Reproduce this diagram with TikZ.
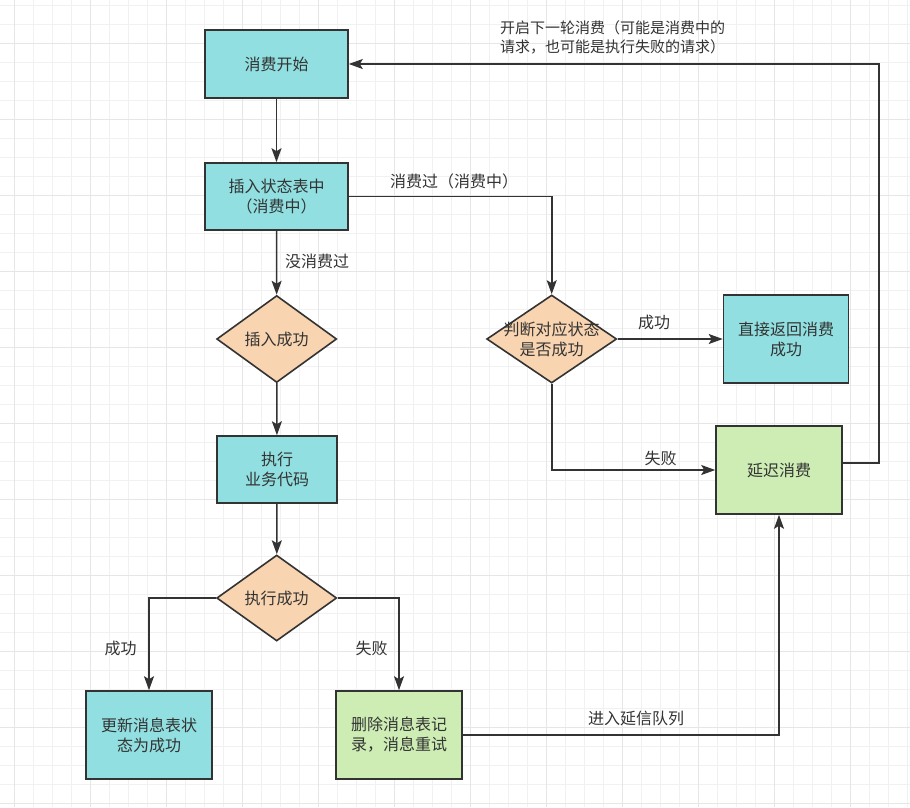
\documentclass[tikz,border=0pt]{standalone}
\usepackage{fontspec}
\setmainfont{Noto Sans CJK SC}
\usetikzlibrary{shapes.geometric,arrows.meta}
\definecolor{teal1}{HTML}{91DFE0}
\definecolor{orange1}{HTML}{F8D4B0}
\definecolor{green1}{HTML}{CDEDB4}
\definecolor{stroke1}{HTML}{333333}
\definecolor{gridminor}{HTML}{F1F1F1}
\definecolor{gridmajor}{HTML}{E6E6E6}
\tikzset{
  box/.style={draw=stroke1, line width=1.6pt, rectangle, inner sep=0pt, align=center, text=stroke1},
  dia/.style={draw=stroke1, line width=1.6pt, diamond, inner sep=0pt, fill=orange1},
  txt/.style={inner sep=0pt, align=center, text=stroke1},
  lbl/.style={inner sep=0pt, text=stroke1},
  conn/.style={draw=stroke1, line width=1.6pt, -{Stealth[length=14pt,width=10pt,inset=3pt]}},
}
\begin{document}
\begin{tikzpicture}[x=1pt,y=-1pt, font=\fontsize{16}{20}\selectfont]
\useasboundingbox (0,0) rectangle (910,807);
\fill[white] (0,0) rectangle (910,807);
% grid
\foreach \k in {0,...,49} {
  \pgfmathsetmacro{\gx}{-4.7+19*\k}
  \draw[gridminor, line width=0.8pt] (\gx,0) -- (\gx,807);
}
\foreach \k in {0,...,43} {
  \pgfmathsetmacro{\gy}{5+19*\k}
  \draw[gridminor, line width=0.8pt] (0,\gy) -- (910,\gy);
}
\foreach \k in {0,...,12} {
  \pgfmathsetmacro{\gx}{14.3+76*\k}
  \draw[gridmajor, line width=0.9pt] (\gx,0) -- (\gx,807);
}
\foreach \k in {0,...,10} {
  \pgfmathsetmacro{\gy}{43+76*\k}
  \draw[gridmajor, line width=0.9pt] (0,\gy) -- (910,\gy);
}
% nodes
\node[box, fill=teal1, minimum width=143pt, minimum height=68pt] (start) at (276.5,64) {消费开始};
\node[box, fill=teal1, minimum width=143pt, minimum height=67pt] (insert) at (276.5,196.5) {插入状态表中\\（消费中）};
\node[dia, minimum width=120pt, minimum height=87pt] (d1) at (276.7,339) {};
\node[txt] at (d1) {插入成功};
\node[box, fill=teal1, minimum width=120pt, minimum height=67pt] (exec) at (277,469.5) {执行\\业务代码};
\node[dia, minimum width=120pt, minimum height=86pt] (d2) at (276.7,598) {};
\node[txt] at (d2) {执行成功};
\node[box, fill=teal1, minimum width=126pt, minimum height=88pt] (upd) at (149,735) {更新消息表状\\态为成功};
\node[box, fill=green1, minimum width=126pt, minimum height=88pt] (del) at (399,735) {删除消息表记\\录，消息重试};
\node[dia, minimum width=130pt, minimum height=88pt] (d3) at (551.7,339) {};
\node[txt] at (d3) {判断对应状态\\是否成功};
\node[box, fill=teal1, minimum width=125pt, minimum height=88pt] (ret) at (786,339) {直接返回消费\\成功};
\node[box, fill=green1, minimum width=126pt, minimum height=88pt] (delay) at (779,470) {延迟消费};
% connectors
\draw[conn] (start) -- (insert);
\draw[conn] (insert.east) -| (d3.north);
\draw[conn] (insert) -- (d1);
\draw[conn] (d1) -- (exec);
\draw[conn] (exec) -- (d2);
\draw[conn] (d2.west) -| (upd.north);
\draw[conn] (d2.east) -| (del.north);
\draw[conn] (del.east) -| (delay.south);
\draw[conn] (d3.east) -- (ret.west);
\draw[conn] (d3.south) |- (delay.west);
\coordinate (dout) at ([yshift=7pt]delay.east);
\coordinate (cornerR) at (879,0);
\draw[conn] (dout) -| (cornerR |- start.east) -- (start.east);
% labels
\node[lbl] at (454,181) {消费过（消费中）};
\node[lbl] at (317,261) {没消费过};
\node[lbl] at (120.5,648) {成功};
\node[lbl] at (371.5,648) {失败};
\node[lbl] at (654,322) {成功};
\node[lbl] at (660.5,458) {失败};
\node[lbl] at (636,718) {进入延信队列};
\node[lbl, anchor=west, align=left, font=\fontsize{15}{19}\selectfont] at (500,37.5) {开启下一轮消费（可能是消费中的\\请求，也可能是执行失败的请求）};
\end{tikzpicture}
\end{document}
